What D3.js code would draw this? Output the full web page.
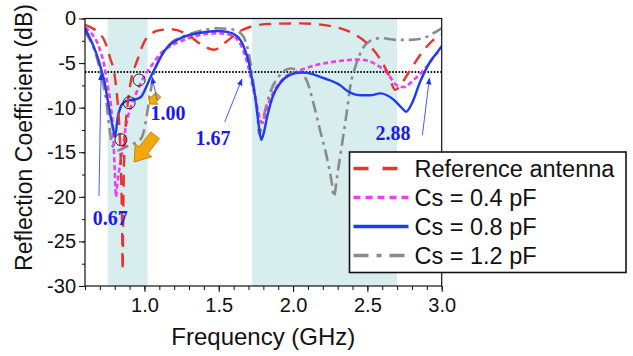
<!DOCTYPE html>
<html>
<head>
<meta charset="utf-8">
<script src="https://cdn.jsdelivr.net/npm/d3@7"></script>
<style>
  html, body { margin: 0; padding: 0; background: #fff; }
  svg { display: block; }
  text { font-family: "Liberation Sans", Arial, sans-serif; }
</style>
</head>
<body>
<svg id="chart" width="633" height="356"></svg>
<script>
// Reflection coefficient (dB) versus frequency (GHz), [freq, dB] pairs
const refAntenna = [[0.60,-0.7],[0.64,-1.0],[0.68,-1.4],[0.70,-1.7],[0.725,-2.3],[0.75,-3.3],[0.77,-4.5],[0.797,-6.1],[0.815,-8.6],[0.832,-12.5],[0.843,-17.5],[0.85,-24],[0.853,-28.2],[0.857,-22],[0.863,-16],[0.872,-12.5],[0.89,-9.2],[0.915,-6.5],[0.94,-5.2],[0.96,-4.3],[0.983,-3.2],[1.01,-2.3],[1.04,-1.8],[1.08,-1.4],[1.18,-1.2],[1.29,-1.8],[1.38,-2.9],[1.47,-3.5],[1.55,-2.6],[1.64,-1.45],[1.73,-0.85],[1.85,-0.6],[2.05,-0.55],[2.27,-0.9],[2.405,-1.7],[2.5,-2.8],[2.59,-4.65],[2.64,-6.2],[2.687,-8.0],[2.73,-7.3],[2.78,-6.0],[2.855,-4.1],[2.944,-2.4],[3.0,-1.8]];
const cs04 = [[0.60,-1.0],[0.64,-1.6],[0.685,-2.8],[0.71,-4.0],[0.73,-5.3],[0.752,-7.5],[0.775,-9.9],[0.79,-13],[0.80,-17],[0.808,-20],[0.818,-18.5],[0.83,-17],[0.853,-14.7],[0.875,-12.1],[0.909,-9.9],[0.954,-8.0],[0.998,-6.5],[1.043,-5.4],[1.11,-3.9],[1.155,-3.3],[1.266,-2.4],[1.378,-1.85],[1.49,-1.65],[1.58,-1.85],[1.636,-2.6],[1.68,-4.3],[1.714,-6.5],[1.748,-9.1],[1.791,-11.7],[1.826,-9.9],[1.87,-8.2],[1.938,-6.7],[2.05,-5.8],[2.162,-5.2],[2.273,-4.85],[2.452,-4.6],[2.542,-5.0],[2.632,-6.1],[2.699,-7.5],[2.743,-7.7],[2.81,-6.9],[2.9,-5.4],[2.967,-3.9],[3.0,-3.45]];
const cs08 = [[0.60,-1.1],[0.662,-3.3],[0.69,-4.6],[0.707,-5.6],[0.73,-7.0],[0.752,-9.1],[0.786,-12.1],[0.803,-13.2],[0.819,-11.2],[0.84,-9.9],[0.862,-9.4],[0.89,-9.2],[0.931,-9.1],[0.976,-8.8],[1.009,-7.8],[1.043,-6.5],[1.077,-5.4],[1.11,-4.3],[1.155,-3.2],[1.244,-2.2],[1.378,-1.6],[1.49,-1.4],[1.558,-1.5],[1.625,-2.0],[1.669,-3.2],[1.703,-5.0],[1.725,-6.9],[1.748,-9.1],[1.77,-12.1],[1.786,-13.6],[1.80,-13.0],[1.826,-11.0],[1.86,-8.9],[1.915,-7.2],[1.983,-6.3],[2.05,-6.05],[2.095,-6.1],[2.206,-6.7],[2.318,-7.5],[2.363,-8.1],[2.452,-8.6],[2.52,-8.6],[2.587,-8.4],[2.676,-9.1],[2.73,-10.0],[2.761,-10.45],[2.8,-9.5],[2.855,-7.1],[2.922,-4.85],[2.97,-3.8],[3.0,-3.1]];
const cs12 = [[0.60,-1.5],[0.662,-3.5],[0.69,-5.0],[0.707,-6.3],[0.741,-9.0],[0.763,-12.1],[0.786,-14.3],[0.819,-14.8],[0.887,-14.3],[0.931,-14.0],[0.976,-13.5],[0.998,-12.5],[1.021,-10.3],[1.043,-8.0],[1.065,-6.1],[1.11,-4.3],[1.177,-2.8],[1.289,-1.85],[1.378,-1.37],[1.49,-1.1],[1.58,-1.2],[1.647,-1.65],[1.692,-3.2],[1.718,-5.4],[1.736,-7.6],[1.759,-10.5],[1.772,-13],[1.795,-11.5],[1.82,-9.8],[1.848,-8.2],[1.904,-6.5],[1.983,-5.6],[2.027,-5.8],[2.095,-7.1],[2.14,-9.7],[2.184,-12.7],[2.229,-15.7],[2.263,-18.7],[2.274,-20],[2.298,-17.5],[2.33,-14.0],[2.363,-10.3],[2.385,-7.6],[2.419,-5.4],[2.464,-3.5],[2.519,-2.5],[2.587,-2.2],[2.699,-2.4],[2.788,-2.4],[2.877,-2.2],[2.944,-1.65],[3.0,-1.1]];

const seriesNames = ["Reference antenna", "Cs = 0.4 pF", "Cs = 0.8 pF", "Cs = 1.2 pF"];
const xTickValues = [1.0, 1.5, 2.0, 2.5, 3.0];
const yTickValues = [0, -5, -10, -15, -20, -25, -30];
const bands = [[0.752, 1.021], [1.725, 2.699]];
const thresholdDb = -6;
// annotated frequencies: label, label anchor [f, dB], arrow tail [f, dB], arrow tip [f, dB]
const bandEdgeLabels = ["0.67", "1.00", "1.67", "2.88"];
const labelAnchors = [[0.652, -23.2], [1.04, -11.4], [1.343, -14.2], [2.554, -13.6]];
const arrowTails = [[0.694, -19.9], [1.085, -9.15], [1.54, -11.6], [2.87, -13.1]];
const arrowTips = [[0.708, -6.2], [1.052, -6.6], [1.656, -6.8], [2.917, -6.7]];
const circleMarks = [[0.964, -6.9], [0.897, -9.45], [0.842, -13.6]];
const blockArrows = [{ tail: [1.093, -8.55], tip: [1.034, -9.6], size: 0.55 }, { tail: [1.072, -13.1], tip: [0.931, -16.1], size: 1 }];

const svg = d3.select("#chart");
const plot = { left: 85, right: 441.7, top: 18.5, bottom: 286 };

const x = d3.scaleLinear().domain([0.6, 3.0]).range([plot.left, plot.right]);
const y = d3.scaleLinear().domain([-30, 0]).range([plot.bottom, plot.top]);

svg.append("defs").append("clipPath").attr("id", "plotClip")
  .append("rect").attr("x", plot.left).attr("y", plot.top)
  .attr("width", plot.right - plot.left).attr("height", plot.bottom - plot.top);

// shaded operating bands
svg.append("g").selectAll("rect").data(bands).join("rect")
  .attr("x", d => x(d[0])).attr("y", plot.top)
  .attr("width", d => x(d[1]) - x(d[0])).attr("height", plot.bottom - plot.top)
  .attr("fill", "#d8eded");

// -6 dB reference line
svg.append("line")
  .attr("x1", plot.left).attr("x2", plot.right)
  .attr("y1", y(thresholdDb)).attr("y2", y(thresholdDb))
  .attr("stroke", "#111").attr("stroke-width", 2).attr("stroke-dasharray", "1.6,1.6");

const styles = [
  { data: refAntenna, color: "#e8342e", width: 2.4, dash: "12,8", legendDash: "15,14" },
  { data: cs04, color: "#ee3cee", width: 2.6, dash: "5,3", legendDash: "7,5" },
  { data: cs08, color: "#1e3cf0", width: 2.4, dash: null, legendDash: null },
  { data: cs12, color: "#8a8a8a", width: 2.6, dash: "12,5,3,5", legendDash: "15,8,5,8" }
];

const line = d3.line().x(d => x(d[0])).y(d => y(d[1])).curve(d3.curveMonotoneX);

const curves = svg.append("g").attr("clip-path", "url(#plotClip)");
// draw order: gray, magenta, blue on top, red dashed above
[3, 1, 2, 0].forEach(i => {
  const s = styles[i];
  curves.append("path").datum(s.data)
    .attr("d", line).attr("fill", "none")
    .attr("stroke", s.color).attr("stroke-width", s.width)
    .attr("stroke-dasharray", s.dash)
    .attr("stroke-linejoin", "round");
});

// circles marking the shoulder points
svg.append("g").selectAll("circle").data(circleMarks).join("circle")
  .attr("cx", d => x(d[0])).attr("cy", d => y(d[1])).attr("r", 6)
  .attr("fill", "none").attr("stroke", "#222").attr("stroke-width", 1);

// orange block arrows
const blockArrowG = svg.append("g");
blockArrows.forEach(a => {
  const x0 = x(a.tail[0]), y0 = y(a.tail[1]), x1 = x(a.tip[0]), y1 = y(a.tip[1]);
  const len = Math.hypot(x1 - x0, y1 - y0);
  const ang = Math.atan2(y1 - y0, x1 - x0) * 180 / Math.PI;
  const sw = 4.5 * a.size + 1, hw = 9 * a.size + 1.5, hl = Math.min(len * 0.45, 13 * a.size + 2);
  const pts = [[0, -sw], [len - hl, -sw], [len - hl, -hw], [len, 0], [len - hl, hw], [len - hl, sw], [0, sw]];
  blockArrowG.append("polygon")
    .attr("points", pts.map(p => p.join(",")).join(" "))
    .attr("transform", `translate(${x0},${y0}) rotate(${ang})`)
    .attr("fill", "#f3a70c").attr("stroke", "#b77d08").attr("stroke-width", 0.8);
});

// thin arrows and frequency labels
const defs = svg.select("defs");
defs.append("marker").attr("id", "tipHead").attr("viewBox", "0 0 10 10")
  .attr("refX", 9).attr("refY", 5).attr("markerWidth", 7).attr("markerHeight", 7)
  .attr("orient", "auto").attr("markerUnits", "userSpaceOnUse")
  .append("path").attr("d", "M0,1 L10,5 L0,9 Z").attr("fill", "#2233ee");

const annot = svg.append("g");
arrowTails.forEach((t, i) => {
  annot.append("line")
    .attr("x1", x(t[0])).attr("y1", y(t[1]))
    .attr("x2", x(arrowTips[i][0])).attr("y2", y(arrowTips[i][1]))
    .attr("stroke", "#4a5af5").attr("stroke-width", 1)
    .attr("marker-end", "url(#tipHead)");
});
annot.selectAll("text").data(bandEdgeLabels).join("text")
  .attr("x", (d, i) => x(labelAnchors[i][0])).attr("y", (d, i) => y(labelAnchors[i][1]))
  .style("font-family", "'Liberation Serif', 'Times New Roman', serif")
  .attr("font-weight", "bold").attr("font-size", 20).attr("fill", "#1a1af0")
  .text(d => d);

// axes
const xAxis = svg.append("g").attr("transform", `translate(0,${plot.bottom})`);
xAxis.append("g").call(d3.axisBottom(x).tickValues(d3.range(6, 31).map(v => v / 10)).tickSize(4).tickFormat(""))
  .call(g => g.select(".domain").remove());
xAxis.append("g").call(d3.axisBottom(x).tickValues(xTickValues).tickSize(6).tickPadding(6).tickFormat(d3.format(".1f")))
  .call(g => g.select(".domain").remove())
  .call(g => g.selectAll("text").attr("font-size", 20).attr("fill", "#111").style("font-family", "'Liberation Sans', Arial, sans-serif"));
xAxis.selectAll("line").attr("stroke", "#111");

const yAxis = svg.append("g").attr("transform", `translate(${plot.left},0)`);
yAxis.append("g").call(d3.axisLeft(y).tickValues(d3.range(0, 13).map(v => -2.5 * v)).tickSize(3).tickFormat(""))
  .call(g => g.select(".domain").remove());
yAxis.append("g").call(d3.axisLeft(y).tickValues(yTickValues).tickSize(6).tickPadding(3).tickFormat(d3.format("d")))
  .call(g => g.select(".domain").remove())
  .call(g => g.selectAll("text").attr("font-size", 20).attr("fill", "#111").style("font-family", "'Liberation Sans', Arial, sans-serif")
    .text(d => d === 0 ? "0" : "-" + Math.abs(d)));
yAxis.selectAll("line").attr("stroke", "#111");

// plot frame
svg.append("rect")
  .attr("x", plot.left).attr("y", plot.top)
  .attr("width", plot.right - plot.left).attr("height", plot.bottom - plot.top)
  .attr("fill", "none").attr("stroke", "#111").attr("stroke-width", 1.2);

// axis titles
svg.append("text").attr("x", (plot.left + plot.right) / 2 + 0).attr("y", 345)
  .attr("text-anchor", "middle").attr("font-size", 24).attr("fill", "#111")
  .text("Frequency (GHz)");
svg.append("text").attr("transform", "translate(32,137.5) rotate(-90)")
  .attr("text-anchor", "middle").attr("font-size", 23).attr("fill", "#111")
  .text("Reflection Coefficient (dB)");

// legend
const legend = svg.append("g").attr("transform", "translate(349.5,152)");
legend.append("rect").attr("width", 276.5).attr("height", 120.5)
  .attr("fill", "#fff").attr("stroke", "#111").attr("stroke-width", 1.6);
const legendRow = d3.scaleBand().domain(seriesNames).range([2, 118]);
seriesNames.forEach((name, i) => {
  const s = styles[i];
  const cy = legendRow(name) + legendRow.bandwidth() / 2;
  legend.append("line").attr("x1", 4).attr("x2", 59).attr("y1", cy).attr("y2", cy)
    .attr("stroke", s.color).attr("stroke-width", 3.5).attr("stroke-dasharray", s.legendDash);
  legend.append("text").attr("x", 65).attr("y", cy).attr("dy", "0.35em")
    .attr("font-size", 23.5).attr("fill", "#111").text(name);
});
</script>
</body>
</html>
